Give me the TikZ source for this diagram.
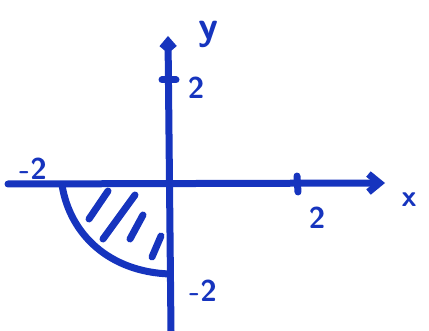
\documentclass[tikz,border=0pt]{standalone}
\usepackage{tikz}
\usetikzlibrary{arrows.meta}
\definecolor{pen}{RGB}{22,52,190}

\begin{document}
\begin{tikzpicture}[x=1pt,y=-1pt,line cap=round,line join=round,
  axe/.style={pen,line width=7pt},
  lab/.style={pen,font=\fontsize{30}{32}\sffamily\bfseries}]
\useasboundingbox (0,0) rectangle (429,331);
% Assi
\coordinate (O) at (170,185);
\coordinate (xs) at (8,184);
\coordinate (xe) at (385,183);
\coordinate (ys) at (171,331);
\coordinate (ye) at (168,36);
\draw[axe,-{Straight Barb[length=11pt,width=18pt]}] (xs) -- (xe);
\draw[axe,-{Straight Barb[length=7pt,width=12pt]}] (ys) -- (ye);
% Tacche
\draw[axe] (297,176) -- (298,192);
\draw[axe] (162,80) -- (176,80);
% Quarto di cerchio
\coordinate (A) at (62,185);
\coordinate (B) at (170,274);
\draw[axe] (A) .. controls (70,235) and (110,272) .. (B);
% Tratteggio
\draw[axe] (108,191) -- (89,219);
\draw[axe] (135,195) -- (103,239);
\draw[axe] (143,215) -- (130,239);
\draw[axe] (161,236) -- (152,257);
% Etichette
\node[lab,font=\fontsize{40}{42}\sffamily\bfseries] (ly) at (208,34) {y};
\node[lab] (l2y) at (196,88) {2};
\node[lab] (lm2y) at (203,291) {-2};
\node[lab] (l2x) at (317,218) {2};
\node[lab] (lx) at (409,200) {x};
\node[lab] (lm2x) at (33,169) {-2};
\end{tikzpicture}
\end{document}
